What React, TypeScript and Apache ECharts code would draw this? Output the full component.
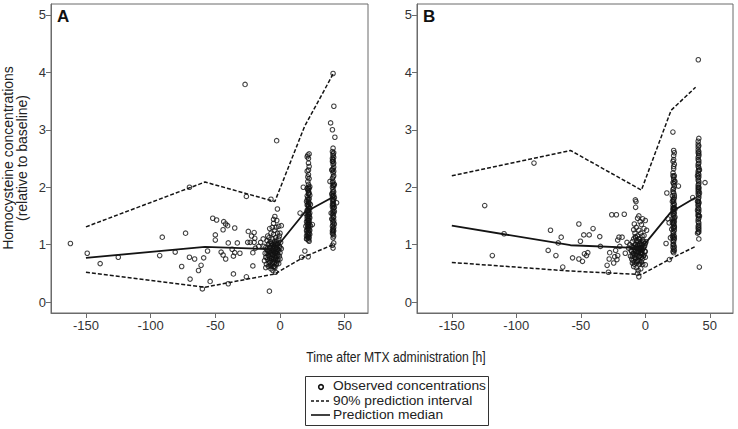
import React, { useEffect, useRef } from "react";
import * as echarts from "echarts";

// ---------- data ----------
const timesA = [-150, -58, -4, 19, 41];
const upperA = [1.31, 2.09, 1.75, 3.06, 3.97];
const medianA = [0.77, 0.96, 0.92, 1.56, 1.83];
const lowerA = [0.52, 0.26, 0.49, 0.79, 1.0];

const timesB = [-150, -58, -3, 20, 39];
const upperB = [2.2, 2.64, 1.95, 3.34, 3.74];
const medianB = [1.33, 0.99, 0.94, 1.57, 1.82];
const lowerB = [0.69, 0.54, 0.48, 0.76, 0.97];

const yTicks = [0, 1, 2, 3, 4, 5];
const xTicks = [-150, -100, -50, 0, 50];

const obsA_sparse = [[-162,1.02],[-149,0.85],[-139,0.67],[-125,0.78],[-93,0.81],[-91,1.13],[-81,0.87],[-76,0.62],[-73,1.2],[-70,2.0],[-70,0.78],[-69.5,0.4],[-66,0.75],[-63,0.55],[-61,0.64],[-60,0.23],[-59,0.77],[-56,0.89],[-54,0.36],[-52,1.46],[-49,1.43],[-50,1.17],[-50,1.08],[-44,1.26],[-43.5,1.4],[-42,1.36],[-40.5,1.33],[-40,1.03],[-45.5,0.87],[-44,0.82],[-42,0.75],[-40,0.32],[-37,0.92],[-36,0.8],[-36,0.49],[-35,0.86],[-35,1.29],[-33,1.03],[-31,0.85],[-27,3.79],[-26,1.84],[-26,0.44],[-24.5,1.23],[-25,1.04],[-23,1.04],[-22,1.15],[-21,0.86],[-20,1.04],[-21,0.63],[-20,1.21],[-19.5,1.11],[-19,0.94],[-16.5,0.97],[-15,1.04],[-13,1.1],[-8.2,0.19],[-7,1.79],[-2.6,2.81],[-2,1.62]];
const obsA_pre = [[-12,0.72],[-11.5,0.85],[-11,0.95],[-10.5,0.66],[-10,1.07],[-10,0.78],[-9.5,0.9],[-9,1.0],[-9,0.62],[-8.5,1.12],[-8.5,0.8],[-8,0.95],[-8,0.7],[-7.5,1.05],[-7.5,0.86],[-7,0.58],[-7,1.2],[-7,0.98],[-6.5,0.76],[-6.5,0.9],[-6,1.3],[-6,1.1],[-6,0.83],[-6,0.67],[-5.5,1.0],[-5.5,0.93],[-5.5,0.55],[-5,1.44],[-5,1.37],[-5,1.18],[-5,0.88],[-5,0.74],[-4.5,1.05],[-4.5,0.97],[-4.5,0.62],[-4,1.49],[-4,1.25],[-4,0.9],[-4,0.8],[-4,0.7],[-3.5,1.12],[-3.5,1.02],[-3.5,0.85],[-3.5,0.52],[-3,1.3],[-3,0.95],[-3,0.77],[-3,0.65],[-2.5,1.42],[-2.5,1.08],[-2.5,0.88],[-2,1.2],[-2,1.0],[-2,0.72],[-1.5,0.92],[-1.5,0.82],[-1,1.1],[-1,1.32],[-1,0.67],[-0.5,0.97],[0,1.2],[0,0.86],[0,0.75],[0.5,1.04],[1,1.33],[1,0.93],[-8,1.28],[-9.5,1.15],[-11,0.6],[-12.5,0.97]];
const obsA_pre2 = [[-11,0.78],[-10.5,0.92],[-10,0.85],[-9.5,0.74],[-9,0.88],[-9,0.82],[-8.5,0.68],[-8.5,1.02],[-8,0.88],[-8,0.76],[-7.5,0.64],[-7.5,0.94],[-7,0.84],[-7,0.72],[-6.5,1.02],[-6.5,0.62],[-6,0.95],[-6,0.78],[-5.5,0.82],[-5.5,0.7],[-5,0.96],[-5,0.62],[-4.5,0.86],[-4.5,0.76],[-4,1.0],[-4,0.6],[-3.5,0.92],[-3.5,0.74],[-3,0.88],[-3,1.05],[-2.5,0.8],[-2.5,0.68],[-2,0.92],[-2,0.84],[-1.5,1.02],[-1.5,0.74],[-1,0.9],[-0.5,0.8],[-0.5,1.15],[0,0.95]];
const obsA_24h = [[15.5,1.55],[18,2.0],[19.2,0.89],[21.8,0.79],[16.7,0.78],[22.5,2.36],[25,1.35],[21,2.53],[21.5,2.56],[22,2.5],[22.5,2.58],[22,2.22],[22.5,2.15],[21.5,2.1],[22,2.05],[23,2.01],[21,1.98],[22,1.95],[22.5,1.9],[23,1.86],[21.5,1.82],[22,1.78],[20.5,1.75],[22.5,1.72],[21,1.69],[22,1.66],[23,1.63],[21.5,1.6],[22,1.57],[20,1.54],[22.5,1.52],[21,1.49],[23,1.47],[22,1.45],[21.5,1.42],[20.5,1.4],[22.5,1.38],[21,1.35],[23.5,1.33],[22,1.31],[21.5,1.28],[22.5,1.26],[20.5,1.24],[22,1.22],[21,1.2],[23,1.18],[22,1.16],[21.5,1.14],[22.5,1.12],[20.5,1.1],[22,1.08],[23,1.25],[21,1.6],[23.5,1.7],[20,1.32],[22,1.88],[21,2.28],[22.5,1.42],[21.5,1.5],[23,1.55],[20.5,1.15],[22,1.36],[21,1.78]];
const obsA_24h2 = [[21.5,1.95],[22,1.9],[21,1.85],[22.5,1.8],[22,1.74],[21.5,1.7],[22.5,1.64],[22,1.6],[21.5,1.55],[22,1.52],[21,1.45],[22,1.42],[22.5,1.34],[21.5,1.32],[22,1.28],[21,1.26],[22.5,1.2],[21.5,1.18],[22,1.12],[21,1.1],[22.5,1.06],[22,2.0],[21.5,2.18],[22,2.42],[22,2.3],[21.5,1.38],[22.5,1.48],[21,1.58],[22,1.68],[22.5,1.98]];
const obsA_42h = [[41,3.98],[41.6,3.41],[39.1,3.12],[40.5,3.0],[42.4,2.87],[38.6,2.1],[43.7,1.73],[41.5,1.03],[41,0.94],[40.5,0.99],[41,2.68],[40.5,2.62],[41,2.58],[41.5,2.52],[40.5,2.45],[41,2.4],[41.5,2.35],[40,2.3],[41,2.25],[41.5,2.2],[40.5,2.15],[41,2.1],[42,2.05],[40.5,2.0],[41,1.96],[41.5,1.92],[40,1.88],[41,1.85],[42,1.82],[40.5,1.78],[41,1.75],[41.5,1.7],[40.5,1.66],[41,1.62],[42,1.58],[39.5,1.55],[41,1.52],[41.5,1.48],[40.5,1.44],[41,1.4],[42,1.36],[40.5,1.32],[41,1.28],[41.5,1.24],[40.5,1.2],[41,1.18],[41.5,1.55],[40.5,1.9],[41,2.32],[42,1.65],[40,1.45],[41,1.12],[41.5,2.02],[40.5,2.5],[41,1.34]];
const obsA_42h2 = [[41.5,2.6],[41,2.55],[40.5,2.3],[41.5,2.28],[41,2.18],[40.5,2.08],[41.5,2.05],[41,2.03],[41,1.92],[41.5,1.86],[40.5,1.84],[41,1.8],[41.5,1.78],[41,1.72],[40.5,1.7],[41,1.68],[41.5,1.64],[41,1.58],[40.5,1.55],[41,1.48],[41.5,1.42],[41,1.38],[41.5,1.3],[41,1.26],[40.5,1.24],[41,1.22],[41.5,1.15],[41,2.45],[41.5,2.42],[41,2.48]];

const obsB_sparse = [[-124.5,1.68],[-118.6,0.81],[-109.5,1.19],[-86.3,2.42],[-75.3,0.9],[-73.5,1.25],[-69.3,0.81],[-67.5,1.03],[-65.2,1.13],[-64,0.61],[-56.4,0.77],[-51.5,1.36],[-50.3,1.06],[-51.5,0.75],[-48.7,0.71],[-47.7,1.17],[-47.2,0.84],[-45.6,0.81],[-44.6,0.86],[-43.5,1.17],[-40.5,1.28],[-35.3,1.14],[-34.8,0.97],[-29.6,0.64],[-28.6,0.52],[-28,0.75],[-27.6,0.86],[-26,1.52],[-22.4,1.52],[-24.5,0.68],[-23.7,0.79],[-23,0.9],[-22,0.74],[-21.4,1.08],[-21.4,0.81],[-20.4,1.13],[-19.8,0.97],[-18,1.13],[-16.3,1.53],[-15.5,0.85],[-14.2,1.04],[-13,0.94],[-10.3,0.97],[-7.8,1.14],[-7.7,1.78],[-7.2,1.75],[-7.5,1.65],[-9,1.26]];
const obsB_pre = [[-11,0.9],[-10.5,0.75],[-10,1.05],[-10,0.68],[-9.5,0.85],[-9,1.1],[-9,0.62],[-8.5,0.95],[-8.5,0.78],[-8,1.2],[-8,0.7],[-7.5,0.88],[-7.5,1.0],[-7,0.6],[-7,1.3],[-6.5,0.82],[-6.5,0.93],[-6,1.46],[-6,1.15],[-6,0.72],[-5.5,1.05],[-5.5,0.98],[-5.5,0.55],[-5,1.5],[-5,1.25],[-5,0.87],[-5,0.44],[-4.5,0.92],[-4.5,0.66],[-4.5,1.1],[-4,1.4],[-4,0.8],[-4,1.02],[-3.5,0.95],[-3.5,0.58],[-3.5,1.2],[-3,0.85],[-3,1.35],[-3,0.7],[-2.5,1.0],[-2.5,0.9],[-2,1.08],[-2,0.76],[-2,1.45],[-1.5,0.94],[-1,1.16],[-1,0.82],[-1,1.28],[-0.5,0.98],[0,1.42],[0,0.88],[0,0.65],[0.5,1.05],[1,1.25],[-12,1.0],[-6,0.5],[-8.5,1.36],[-11.5,0.8]];
const obsB_pre2 = [[-10.5,0.88],[-10,0.8],[-9.5,0.95],[-9.5,0.72],[-9,0.84],[-8.5,0.9],[-8.5,0.66],[-8,1.0],[-8,0.82],[-7.5,0.76],[-7.5,1.12],[-7,0.86],[-7,0.96],[-6.5,1.08],[-6.5,0.7],[-6,0.88],[-6,1.0],[-5.5,0.78],[-5.5,0.86],[-5,0.94],[-5,0.72],[-4.5,1.0],[-4.5,0.8],[-4,0.9],[-4,0.68],[-3.5,0.86],[-3.5,1.05],[-3,0.95],[-3,0.78],[-2.5,0.84],[-2.5,1.15],[-2,0.92],[-2,0.66],[-1.5,1.05],[-1.5,0.8],[-1,0.96],[-0.5,0.88],[0,1.02],[0,0.78],[-5,1.1]];
const obsB_24h = [[21.4,2.96],[18.7,0.74],[16.7,1.9],[25.7,2.02],[16.1,1.02],[18.5,1.38],[19.5,1.12],[17.5,1.45],[22,2.64],[22.5,2.6],[22,2.55],[21.5,2.45],[22.5,2.4],[22,2.32],[21.5,2.25],[22.5,2.2],[22,2.14],[21.5,2.08],[22.5,2.02],[22,1.98],[21.5,1.92],[22.5,1.86],[22,1.8],[21,1.75],[22.5,1.7],[22,1.65],[21.5,1.6],[22.5,1.55],[22,1.5],[21,1.45],[22.5,1.4],[22,1.35],[21.5,1.3],[22.5,1.25],[22,1.2],[21,1.15],[22.5,1.1],[22,1.05],[21.5,1.0],[22.5,0.96],[22,0.92],[21.5,0.88],[23,1.62],[21,1.38],[22,1.72],[23,2.1],[21,1.85],[22.5,1.32],[22,1.58],[21.5,1.12],[23,1.48],[20.5,1.27],[22,2.48],[21.5,1.68]];
const obsB_24h2 = [[22,2.36],[21.5,2.2],[22,2.18],[22.5,2.1],[22,2.06],[21.5,1.96],[22,1.9],[22.5,1.82],[21.5,1.78],[22,1.76],[22.5,1.64],[21.5,1.63],[22,1.62],[22,1.54],[21.5,1.52],[22.5,1.46],[22,1.43],[21.5,1.4],[22,1.37],[22.5,1.3],[22,1.28],[21.5,1.22],[22,1.16],[22.5,1.14],[22,1.1],[21.5,1.06],[22,1.0],[22.5,0.9],[22,0.86],[21.5,0.95]];
const obsB_42h = [[41.1,4.22],[41.9,0.61],[46.3,2.08],[36.8,1.82],[40.5,1.2],[41.5,1.22],[41.5,1.1],[41.5,2.85],[41,2.8],[41.5,2.72],[41,2.65],[41.5,2.58],[41,2.52],[41.5,2.46],[41,2.4],[41.5,2.34],[41,2.28],[41.5,2.22],[41,2.16],[41.5,2.1],[41,2.04],[41.5,1.98],[41,1.92],[41.5,1.86],[41,1.8],[41.5,1.74],[41,1.68],[41.5,1.62],[41,1.56],[41.5,1.5],[41,1.44],[41.5,1.38],[41,1.32],[41.5,1.26],[40.5,1.6],[42,1.9],[40.5,2.2],[42,1.5],[40.5,1.75],[42,2.3],[41,2.0],[41,1.7]];
const obsB_42h2 = [[41,2.75],[41,2.6],[41.5,2.55],[41,2.48],[41.5,2.42],[41,2.36],[41.5,2.3],[41,2.24],[41.5,2.18],[41,2.12],[41.5,2.06],[41,1.96],[41.5,1.94],[41,1.88],[41.5,1.82],[41,1.76],[41.5,1.72],[41,1.64],[41.5,1.58],[41,1.52],[41.5,1.46],[41,1.4],[41.5,1.34],[41,1.28],[41,1.22],[41.5,1.3],[41,2.7],[41.5,2.62],[41,1.5],[41.5,2.0]];

const FONT = "Liberation Sans, Arial, sans-serif";
const INK = "#141414";
const FRAME = "#6b6b6b";

function pairs(t: number[], v: number[]) {
  return t.map((x, i) => [x, v[i]]);
}

export default function App() {
  const ref = useRef<HTMLDivElement>(null);
  useEffect(() => {
    document.body.style.margin = "0";
    const chart = echarts.init(ref.current!, null, { renderer: "svg" });
    const grids = [
      { left: 51, top: 4, width: 317, height: 309, show: true, borderColor: FRAME, borderWidth: 1, backgroundColor: "transparent" },
      { left: 417, top: 4, width: 316, height: 309, show: true, borderColor: FRAME, borderWidth: 1, backgroundColor: "transparent" },
    ];
    const mkX = (gi: number) => ({
      type: "value", gridIndex: gi, min: -177, max: 68,
      splitLine: { show: false },
      axisLine: { show: true, onZero: false, lineStyle: { color: FRAME } },
      axisTick: { show: true, length: 5, customValues: xTicks, lineStyle: { color: FRAME } },
      axisLabel: { customValues: xTicks, color: "#333", fontSize: 13, fontFamily: FONT, margin: 6 },
    });
    const mkY = (gi: number) => ({
      type: "value", gridIndex: gi, min: -0.19, max: 5.19,
      splitLine: { show: false },
      axisLine: { show: true, onZero: false, lineStyle: { color: FRAME } },
      axisTick: { show: true, length: 5, customValues: yTicks, lineStyle: { color: FRAME } },
      axisLabel: { customValues: yTicks, color: "#333", fontSize: 13, fontFamily: FONT, margin: 5 },
    });
    const scatterStyle = {
      type: "scatter", symbol: "circle", symbolSize: 4.5,
      itemStyle: { color: "rgba(0,0,0,0)", borderColor: "#111", borderWidth: 1.1 },
      z: 2,
    };
    const lineS = (gi: number, data: number[][], dashed: boolean) => ({
      type: "line", xAxisIndex: gi, yAxisIndex: gi, data, symbol: "none",
      lineStyle: { color: INK, width: dashed ? 1.5 : 1.8, type: dashed ? [4, 2] : "solid" },
      z: 3,
    });
    const series: any[] = [];
    const panels = [
      { gi: 0, obs: [...obsA_sparse, ...obsA_pre, ...obsA_pre2, ...obsA_24h, ...obsA_24h2, ...obsA_42h, ...obsA_42h2], t: timesA, u: upperA, m: medianA, l: lowerA },
      { gi: 1, obs: [...obsB_sparse, ...obsB_pre, ...obsB_pre2, ...obsB_24h, ...obsB_24h2, ...obsB_42h, ...obsB_42h2], t: timesB, u: upperB, m: medianB, l: lowerB },
    ];
    panels.forEach((p) => {
      series.push({ ...scatterStyle, xAxisIndex: p.gi, yAxisIndex: p.gi, data: p.obs });
      series.push(lineS(p.gi, pairs(p.t, p.u), true));
      series.push(lineS(p.gi, pairs(p.t, p.m), false));
      series.push(lineS(p.gi, pairs(p.t, p.l), true));
    });
    const txt = (x: number, y: number, text: string, extra: any = {}, more: any = {}) => ({
      type: "text", x, y, ...more,
      style: { text, fill: "#222", font: `13px ${FONT}`, textVerticalAlign: "middle", ...extra },
    });
    chart.setOption({
      animation: false,
      grid: grids,
      xAxis: [mkX(0), mkX(1)],
      yAxis: [mkY(0), mkY(1)],
      series,
      graphic: [
        txt(57, 16, "A", { font: `bold 17px ${FONT}`, fill: "#111" }),
        txt(423, 16, "B", { font: `bold 17px ${FONT}`, fill: "#111" }),
        { type: "text", x: 8, y: 158, rotation: Math.PI / 2, style: { text: "Homocysteine concentrations", fill: "#222", font: `14px ${FONT}`, textAlign: "center", textVerticalAlign: "middle" } },
        { type: "text", x: 22, y: 158, rotation: Math.PI / 2, style: { text: "(relative to baseline)", fill: "#222", font: `14px ${FONT}`, textAlign: "center", textVerticalAlign: "middle" } },
        txt(396, 357, "Time after MTX administration [h]", { textAlign: "center", font: `14px ${FONT}` }, { scaleX: 0.87 }),
        { type: "rect", shape: { x: 305.5, y: 376.5, width: 183, height: 49 }, style: { fill: "#fff", stroke: "#333", lineWidth: 1 } },
        { type: "circle", shape: { cx: 321, cy: 387, r: 2.3 }, style: { fill: "none", stroke: "#111", lineWidth: 1.6 } },
        txt(333, 386, "Observed concentrations", {}, { scaleX: 1.06 }),
        { type: "line", shape: { x1: 311, y1: 401, x2: 330, y2: 401 }, style: { stroke: "#111", lineWidth: 1.5, lineDash: [3, 2] } },
        txt(333, 400.5, "90% prediction interval", {}, { scaleX: 1.06 }),
        { type: "line", shape: { x1: 311, y1: 415, x2: 330, y2: 415 }, style: { stroke: "#111", lineWidth: 1.6 } },
        txt(333, 415, "Prediction median", {}, { scaleX: 1.06 }),
      ],
    });
    return () => chart.dispose();
  }, []);
  return <div ref={ref} style={{ width: 738, height: 429 }} />;
}
